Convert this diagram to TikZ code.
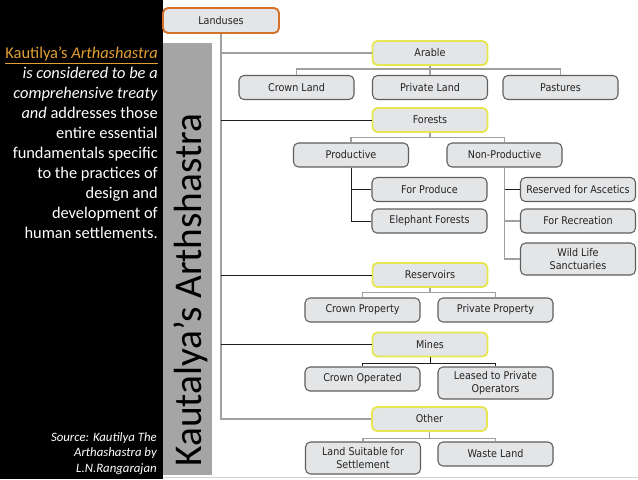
\documentclass[tikz,border=0pt]{standalone}
\usepackage{fontspec}
\setmainfont{Carlito}
\newfontfamily\boxfont[FakeStretch=0.9]{DejaVu Sans}
\definecolor{boxfill}{RGB}{228,229,231}
\definecolor{boxline}{RGB}{95,95,95}
\definecolor{boxtext}{RGB}{35,35,35}
\definecolor{conngray}{RGB}{160,160,160}
\definecolor{connblack}{RGB}{30,30,30}
\definecolor{barg}{RGB}{165,165,165}
\definecolor{catyellow}{RGB}{232,230,80}
\definecolor{rootorange}{RGB}{212,112,40}
\definecolor{gold}{RGB}{226,160,52}
\begin{document}
\begin{tikzpicture}[x=0.75pt,y=-0.75pt,
  box/.style={draw=boxline, fill=boxfill, rounded corners=3.75pt, line width=0.8pt,
    minimum width=86.25pt, minimum height=18pt, inner sep=1pt, align=center,
    text=boxtext, font=\boxfont\fontsize{8}{9.6}\selectfont},
  tall/.style={box, minimum height=24pt},
  cat/.style={box, draw=catyellow, line width=1.4pt},
  rootbox/.style={box, draw=rootorange, line width=1.4pt},
  conn/.style={draw=conngray, line width=0.8pt},
  connb/.style={draw=connblack, line width=0.75pt}]
\useasboundingbox (0,0) rectangle (638,479);
\fill[white] (0,0) rectangle (638,479);
\fill[black] (0,0) rectangle (163,479);
\fill[barg] (163,43) rectangle (212,475);
\draw[gray!35, line width=0.8pt] (163,477.5) -- (638,477.5);

% left texts
\node[anchor=north east, align=right, inner sep=0pt, text=white,
  font=\fontsize{12.3}{15}\selectfont] (intro) at (158,47)
  {\textcolor{gold}{\underline{Kautilya’s \textit{Arthashastra}}}\\
   \textit{is considered to be a}\\
   \textit{comprehensive treaty}\\
   \textit{and} addresses those\\
   entire essential\\
   fundamentals specific\\
   to the practices of\\
   design and\\
   development of\\
   human settlements.};
\node[anchor=north east, align=right, inner sep=0pt, text=white,
  font=\itshape\fontsize{9.6}{11.6}\selectfont] (src) at (157,432)
  {Source: Kautilya The\\ Arthashastra by\\ L.N.Rangarajan};
\node[rotate=90, inner sep=0pt, text=black, font=\fontsize{29.5}{29.5}\selectfont] (title) at (191,290)
  {Kautalya’s Arthshastra};

% boxes
\node[rootbox, minimum width=87pt, minimum height=18.75pt] (land) at (221,20.5) {Landuses};
\node[cat] (ara) at (430,53) {Arable};
\node[box] (crl) at (296.5,87.5) {Crown Land};
\node[box] (pri) at (430,87.5) {Private Land};
\node[box] (pas) at (560.5,87.5) {Pastures};
\node[cat] (for) at (430,120) {Forests};
\node[box] (prod) at (351,155) {Productive};
\node[box] (np) at (504.5,155) {Non-Productive};
\node[box] (fpr) at (429.5,189.5) {For Produce};
\node[box] (ele) at (429.5,221) {Elephant Forests};
\node[box] (ra) at (578,189.5) {Reserved for Ascetics};
\node[box] (rec) at (578,221) {For Recreation};
\node[tall] (wl) at (578,259) {Wild Life\\Sanctuaries};
\node[cat] (res) at (430,275) {Reservoirs};
\node[box] (cp) at (362.5,310) {Crown Property};
\node[box] (pp) at (495.5,310) {Private Property};
\node[cat] (min) at (430,344.5) {Mines};
\node[box] (co) at (362.5,379) {Crown Operated};
\node[tall] (lea) at (495.5,383) {Leased to Private\\Operators};
\node[cat] (oth) at (429.5,419) {Other};
\node[tall] (ls) at (363,458) {Land Suitable for\\Settlement};
\node[box] (wst) at (495.5,454) {Waste Land};

% trunk
\draw[conn] (land.south) -- (land.south |- oth.west) -- (oth.west);
\draw[conn] (land.south |- ara.west) -- (ara.west);
\draw[connb] (land.south |- for.west) -- (for.west);
\draw[connb] (land.south |- res.west) -- (res.west);
\draw[connb] (land.south |- min.west) -- (min.west);

% arable
\draw[conn] (ara.south) -- (pri.north);
\draw[conn] (crl.north) -- ++(0,-6) coordinate (ab) -| (pas.north);

% forests
\draw[conn] (for.south) -- ++(0,5) coordinate (fb);
\draw[conn] (prod.north) |- (fb) -| (np.north);
\draw[connb] (prod.south) |- (ele.west);
\draw[connb] (prod.south |- fpr.west) -- (fpr.west);
\draw[conn] (np.south) |- (wl.west);
\draw[connb] (np.south |- ra.west) -- (ra.west);
\draw[conn] (np.south |- rec.west) -- (rec.west);

% reservoirs
\draw[conn] (res.south) -- ++(0,5) coordinate (rb);
\draw[conn] (cp.north) |- (rb) -| (pp.north);

% mines
\draw[connb] (min.south) -- ++(0,6) coordinate (mb);
\draw[connb] (co.north) |- (mb) -| (lea.north);

% other
\draw[conn] (oth.south) -- ++(0,7) coordinate (ob);
\draw[conn] (ls.north) |- (ob) -| (wst.north);
\end{tikzpicture}
\end{document}
